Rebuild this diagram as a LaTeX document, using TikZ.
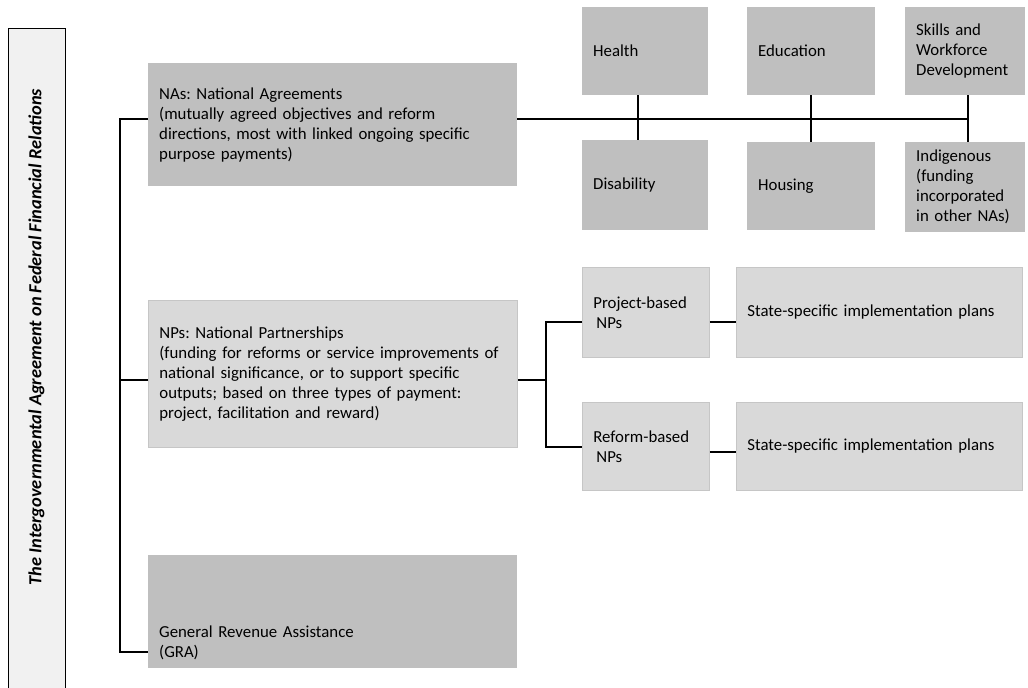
\documentclass[tikz,border=0pt]{standalone}
\usepackage{fontspec}
\setmainfont{Carlito}
\frenchspacing
\definecolor{boxdark}{HTML}{BFBFBF}
\definecolor{boxlight}{HTML}{D9D9D9}
\definecolor{boxline}{HTML}{C6C6C6}
\definecolor{sidebox}{HTML}{F1F1F1}
\newcommand{\boxfont}{\fontsize{16.8}{20}\selectfont}
\tikzset{
  box/.style={anchor=north west, align=left, inner xsep=11pt, inner ysep=0pt, font=\boxfont},
  darkbox/.style={box, fill=boxdark},
  lightbox/.style={box, fill=boxlight, draw=boxline, line width=0.8pt},
  link/.style={line width=2pt}
}
\begin{document}
\begin{tikzpicture}[x=1pt,y=-1pt]
    \clip (0,0) rectangle (1028,688);

    % side panel
    \draw[fill=sidebox, line width=1pt] (8,28) rectangle (65,700);
    \node[rotate=90, font=\fontsize{18.4}{21}\selectfont\bfseries\itshape] (iga) at (36.5,337)
        {The Intergovernmental Agreement on Federal Financial Relations};

    % main boxes
    \node[darkbox, text width=347pt, minimum width=369pt, minimum height=123pt] (na) at (148,63)
        {NAs: National Agreements\\(mutually agreed objectives and reform\\directions, most with linked ongoing specific\\purpose payments)};
    \node[lightbox, text width=347pt, minimum width=369pt, minimum height=147pt] (np) at (148,300)
        {NPs: National Partnerships\\(funding for reforms or service improvements of\\national significance, or to support specific\\outputs; based on three types of payment:\\project, facilitation and reward)};
    \node[darkbox, text width=347pt, minimum width=369pt, text height=82pt, text depth=31pt] (gra) at (148,555)
        {General Revenue Assistance\\(GRA)};

    % National Agreements
    \node[darkbox, text width=104pt, minimum width=126pt, minimum height=88pt] (health) at (582,7) {Health};
    \node[darkbox, text width=106pt, minimum width=128pt, minimum height=88pt] (edu) at (747,7) {Education};
    \node[darkbox, text width=98pt, minimum width=120pt, minimum height=88pt] (skills) at (905,7)
        {Skills and\\Workforce\\Development};
    \node[darkbox, text width=104pt, minimum width=126pt, minimum height=90pt] (dis) at (582,140) {Disability};
    \node[darkbox, text width=106pt, minimum width=128pt, minimum height=88pt] (hous) at (747,142) {Housing};
    \node[darkbox, text width=98pt, minimum width=120pt, minimum height=90pt] (indig) at (905,142)
        {Indigenous\\(funding\\incorporated\\in other NAs)};

    % National Partnerships
    \node[lightbox, text width=105pt, minimum width=127pt, minimum height=90pt] (proj) at (582,267)
        {Project-based\\\hspace*{3pt}NPs};
    \node[lightbox, text width=105pt, minimum width=127pt, minimum height=88pt] (ref) at (582,402)
        {Reform-based\\\hspace*{3pt}NPs};
    \node[lightbox, text width=264pt, minimum width=286pt, minimum height=90pt] (st1) at (736,267)
        {State-specific implementation plans};
    \node[lightbox, text width=264pt, minimum width=286pt, minimum height=88pt] (st2) at (736,402)
        {State-specific implementation plans};

    % trunk
    \coordinate (natick) at ([yshift=5.5pt]na.west);
    \coordinate (nptick) at ([yshift=-6.5pt]np.west);
    \coordinate (gratick) at ([yshift=-40.5pt]gra.west);
    \coordinate (trunk) at ([xshift=-28pt]natick);
    \draw[link] (natick) -- (trunk) |- (gratick);
    \draw[link] (nptick) -- (nptick -| trunk);

    % NA bus
    \coordinate (bus) at ([yshift=5.5pt]na.east);
    \coordinate (skillsdrop) at ([xshift=3pt]skills.south);
    \draw[link] (bus) -- (bus -| skillsdrop);
    \draw[link] ([xshift=-7pt]health.south) -- ([xshift=-7pt]dis.north);
    \draw[link] (edu.south) -- (hous.north);
    \draw[link] (skillsdrop) -- ([xshift=3pt]indig.north);

    % NP fork
    \coordinate (projtick) at ([yshift=-10pt]proj.west);
    \coordinate (reftick) at ([yshift=-1pt]ref.west);
    \draw[link] (nptick -| np.east) -- ++(28,0) coordinate (fork);
    \draw[link] (projtick) -| (fork) |- (reftick);
    \draw[link] (projtick -| proj.east) -- (projtick -| st1.west);
    \draw[link] ([yshift=-6pt]ref.east) -- ([yshift=-6pt]ref.east -| st2.west);

\end{tikzpicture}
\end{document}
